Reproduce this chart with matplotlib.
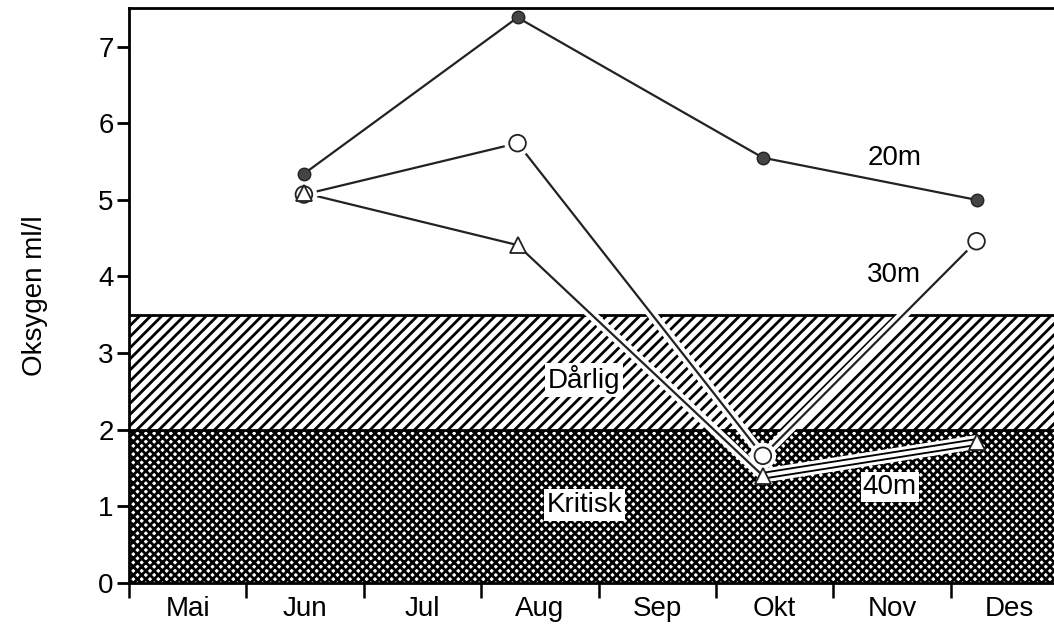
import matplotlib.pyplot as plt
import matplotlib.patheffects as pe

# --------- DATA ---------
months = ["Mai", "Jun", "Jul", "Aug", "Sep", "Okt", "Nov", "Des"]
x_dates = [1.49, 3.31, 5.40, 7.22]   # sampling dates, in months from 1 May
oxy_20m = [5.34, 7.38, 5.55, 5.00]
oxy_30m = [5.07, 5.74, 1.66, 4.46]
oxy_40m = [5.09, 4.41, 1.40, 1.84]

limit_bad = 3.5
limit_crit = 2.0

plt.rcParams['font.family'] = ['Liberation Sans', 'DejaVu Sans']
plt.rcParams['hatch.linewidth'] = 2.0

fig = plt.figure(figsize=(10.54, 6.24), dpi=100)
ax = fig.add_axes([0.1224, 0.0657, 0.8776, 0.921])

ax.set_xlim(0, 7.88)
ax.set_ylim(0, 7.5)

# zones
ax.axhspan(limit_crit, limit_bad, facecolor='white', edgecolor='black',
           hatch='///', lw=0, zorder=1)
ax.axhspan(0, limit_crit, facecolor='white', edgecolor='black',
           hatch='xxxx', lw=0, zorder=1)
ax.axhline(limit_bad, color='black', lw=2, zorder=2)
ax.axhline(limit_crit, color='black', lw=2, zorder=2)

halo = [pe.Stroke(linewidth=7, foreground='white'), pe.Normal()]

# 40m
ax.plot(x_dates[:3], oxy_40m[:3], color='#222222', lw=1.6, zorder=3,
        path_effects=halo)
ax.plot(x_dates[2:], oxy_40m[2:], color='white', lw=10, zorder=3,
        solid_capstyle='butt')
ax.plot(x_dates[2:], oxy_40m[2:], color='black', lw=5.5, zorder=3,
        solid_capstyle='butt')
ax.plot(x_dates[2:], oxy_40m[2:], color='white', lw=2.8, zorder=3,
        solid_capstyle='butt')
ax.plot(x_dates, oxy_40m, ls='none', marker='^', ms=11, mfc='white',
        mec='#222222', mew=1.3, zorder=5)

# 30m
ax.plot(x_dates, oxy_30m, color='#222222', lw=1.6, marker='o', ms=12,
        mfc='white', mec='#222222', mew=1.3, zorder=4, path_effects=halo)

# 20m
ax.plot(x_dates, oxy_20m, color='#222222', lw=1.6, marker='o', ms=9,
        mfc='#444444', mec='#222222', zorder=4)

# labels
fs = 20
ax.text(6.52, 5.55, "20m", fontsize=fs, ha='center', va='center')
ax.text(6.52, 4.02, "30m", fontsize=fs, ha='center', va='center')
ax.text(6.48, 1.25, "40m", fontsize=fs, ha='center', va='center', zorder=6,
        bbox=dict(facecolor='white', edgecolor='none', pad=1.5))
ax.text(3.88, 2.65, "Dårlig", fontsize=fs, ha='center', va='center', zorder=6,
        bbox=dict(facecolor='white', edgecolor='none', pad=2))
ax.text(3.88, 1.02, "Kritisk", fontsize=fs, ha='center', va='center', zorder=6,
        bbox=dict(facecolor='white', edgecolor='none', pad=2))

# axes styling
for side in ['left', 'top', 'bottom']:
    ax.spines[side].set_linewidth(2)
ax.spines['right'].set_visible(False)

ax.set_yticks(range(0, 8))
ax.tick_params(axis='y', direction='out', length=9, width=2, labelsize=fs, pad=2)

ax.set_xticks(range(0, 8))
ax.set_xticklabels([])
ax.set_xticks([i + 0.5 for i in range(8)], minor=True)
ax.set_xticklabels(months, minor=True)
ax.tick_params(axis='x', which='major', direction='out', length=11, width=1.8)
ax.tick_params(axis='x', which='minor', length=0, labelsize=fs, pad=9)

ax.set_ylabel("Oksygen ml/l", fontsize=fs, labelpad=36)

fig.savefig("out.png", dpi=100)
